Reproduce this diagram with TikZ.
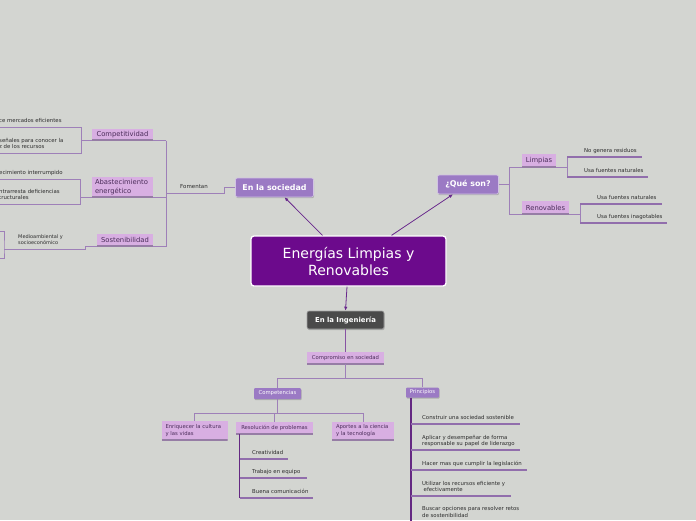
\documentclass[tikz,border=0pt]{standalone}
\usepackage{fontspec}
\setmainfont{DejaVu Sans}
\usetikzlibrary{arrows.meta,shadows}
\definecolor{bgc}{RGB}{211,213,209}
\definecolor{mainp}{RGB}{108,10,140}
\definecolor{midp}{RGB}{155,122,196}
\definecolor{lightp}{RGB}{216,175,226}
\definecolor{darkg}{RGB}{74,74,74}
\definecolor{linec}{RGB}{158,128,184}
\definecolor{ulc}{RGB}{145,110,172}
\definecolor{boxul}{RGB}{150,125,165}
\definecolor{barc}{RGB}{100,40,130}
\definecolor{arrc}{RGB}{105,40,140}
\definecolor{boxtxt}{RGB}{75,45,90}
\definecolor{leaftxt}{RGB}{45,45,45}
\tikzset{
 shad/.style={drop shadow={shadow xshift=0.6pt,shadow yshift=-1.2pt,opacity=0.35,fill=black!60}},
 mainbox/.style={draw=white,line width=1.3pt,fill=mainp,rounded corners=3pt,text=white,font=\fontsize{14}{17}\selectfont,align=center,minimum width=195pt,minimum height=50pt,inner sep=0pt},
 midbox/.style={draw=white!55!midp,line width=0.6pt,fill=midp,rounded corners=2pt,text=white,font=\bfseries\fontsize{7.9}{9}\selectfont,inner sep=0pt,shad},
 darkbox/.style={midbox,fill=darkg,draw=white!50!darkg},
 subbox/.style={fill=midp,text=white,font=\fontsize{5.3}{6.5}\selectfont,inner sep=0pt,rounded corners=1pt,shad},
 lbox/.style={fill=lightp,text=boxtxt,font=\fontsize{6.8}{8.7}\selectfont,inner sep=0pt,
   path picture={\draw[boxul,line width=2.4pt] (path picture bounding box.south west) -- (path picture bounding box.south east);}},
 sbox/.style={lbox,font=\fontsize{5.3}{7}\selectfont},
 leaf/.style={text=leaftxt,font=\fontsize{5.4}{6.6}\selectfont,align=left,anchor=south west,inner xsep=0pt,inner ysep=0pt,text depth=4pt},
 conn/.style={draw=linec,line width=0.8pt},
 ul/.style={draw=ulc,line width=1.1pt},
 bar/.style={draw=barc,line width=1.3pt},
 arr/.style={draw=arrc,line width=0.8pt,-{Latex[length=4pt,width=3.5pt]}},
}
\begin{document}
\begin{tikzpicture}[x=1pt,y=-1pt]
\fill[bgc] (0,0) rectangle (696,520);
\useasboundingbox (0,0) rectangle (696,520);
\clip (0,0) rectangle (696,520);

% main nodes
\node[mainbox] (central) at (348.5,261) {Energías Limpias y\\Renovables};
\node[midbox,minimum width=78pt,minimum height=19pt] (soc) at (274.5,187.5) {En la sociedad};
\node[midbox,minimum width=61pt,minimum height=19pt] (que) at (468,184.5) {¿Qué son?};
\node[darkbox,font=\bfseries\fontsize{6.9}{8}\selectfont,minimum width=77pt,minimum height=18pt] (ing) at (345.5,320) {En la Ingeniería};

\draw[arr] ([xshift=-26pt]central.north) -- ([xshift=10pt]soc.south);
\draw[arr] ([xshift=43pt]central.north) -- ([xshift=-15pt]que.south);
\draw[arr] ([xshift=-1.5pt]central.south) -- (ing.north);

% engineering tree
\node[sbox,minimum width=77pt,minimum height=12pt] (com) at (345.5,358) {Compromiso en sociedad};
\node[subbox,minimum width=47pt,minimum height=11pt] (cmp) at (277.5,393.5) {Competencias};
\node[subbox,minimum width=33pt,minimum height=10pt] (pri) at (422.5,392.5) {Principios};
\node[sbox,text width=58pt,inner xsep=4pt,align=left,minimum height=19pt] (enr) at (194.5,430.5) {Enriquecer la cultura\\y las vidas};
\node[sbox,minimum width=77pt,minimum height=12pt] (res) at (274.5,428) {Resolución de problemas};
\node[sbox,text width=54pt,inner xsep=4pt,align=left,minimum height=18pt] (apo) at (363,431) {Aportes a la ciencia\\y la tecnología};

\draw[conn,draw=arrc!80] (ing.south) -- (com.north);
\coordinate (j1) at (345.5,378.5);
\draw[conn] (com.south) -- (j1) -| (cmp.north);
\draw[conn] (j1) -| (pri.north);
\coordinate (j2) at (277.5,413);
\draw[conn] (cmp.south) -- (j2) -| (enr.north);
\draw[conn] (j2) -| (res.north);
\draw[conn] (j2) -| (apo.north);

\coordinate (rb) at ([xshift=4pt]res.south west);
\node[leaf] (cre) at (252,459) {Creatividad};
\node[leaf] (tra) at (252,478) {Trabajo en equipo};
\node[leaf] (bue) at (252,498) {Buena comunicación};
\draw[bar] (rb) -- (rb |- bue.south);
\draw[ul] (rb |- cre.south) -- ++(48,0);
\draw[ul] (rb |- tra.south) -- ++(67,0);
\draw[ul] (rb |- bue.south) -- ++(73,0);

\coordinate (pb) at ([xshift=-11.5pt]pri.south);
\node[leaf] (p1) at (422,424) {Construir una sociedad sostenible};
\node[leaf] (p2) at (422,450) {Aplicar y desempeñar de forma\\responsable su papel de liderazgo};
\node[leaf] (p3) at (422,470) {Hacer mas que cumplir la legislación};
\node[leaf] (p4) at (422,496) {Utilizar los recursos eficiente y\\\hspace{1.5pt}efectivamente};
\node[leaf] (p5) at (422,521.5) {Buscar opciones para resolver retos\\de sostenibilidad};
\draw[bar] (pb) -- ([yshift=-10pt]pb |- p5.south);
\draw[ul] (pb |- p1.south) -- ++(109,0);
\draw[ul] (pb |- p2.south) -- ++(109,0);
\draw[ul] (pb |- p3.south) -- ++(116,0);
\draw[ul] (pb |- p4.south) -- ++(100,0);
\draw[ul] (pb |- p5.south) -- ++(110,0);

% right tree
\node[lbox,minimum width=34pt,minimum height=13pt] (lim) at (539,160.5) {Limpias};
\node[lbox,minimum width=47pt,minimum height=13pt] (ren) at (545.5,207.5) {Renovables};
\coordinate (qj) at (509.5,184.5);
\draw[conn] (que.east) -- (qj);
\draw[conn] (qj) |- (lim.south west);
\draw[conn] (qj) |- (ren.south west);
\coordinate (lj) at ([xshift=11pt]lim.south east);
\draw[conn] (lim.south east) -- (lj);
\node[leaf] (l1) at (584,157) {No genera residuos};
\node[leaf] (l2) at (584,177) {Usa fuentes naturales};
\draw[conn] (lj |- l1.south) -- (lj |- l2.south);
\draw[ul] (lj |- l1.south) -- ++(75,0);
\draw[ul] (lj |- l2.south) -- ++(81,0);
\coordinate (rj) at ([xshift=11pt]ren.south east);
\draw[conn] (ren.south east) -- (rj);
\node[leaf] (r1) at (597,204) {Usa fuentes naturales};
\node[leaf] (r2) at (597,223) {Usa fuentes inagotables};
\draw[conn] (rj |- r1.south) -- (rj |- r2.south);
\draw[ul] (rj |- r1.south) -- ++(82,0);
\draw[ul] (rj |- r2.south) -- ++(87,0);

% left tree
\node[lbox,minimum width=61pt,minimum height=12pt] (cpt) at (122.5,134.5) {Competitividad};
\node[lbox,text width=55pt,inner xsep=3pt,align=left,minimum height=21pt] (aba) at (122.5,187) {Abastecimiento\\energético};
\node[lbox,minimum width=56pt,minimum height=13pt] (sos) at (125,240) {Sostenibilidad};
\coordinate (sj) at (224,193);
\coordinate (lv) at (166,193);
\node[leaf,font=\fontsize{5.5}{6.6}\selectfont] (fom) at (180,193) {Fomentan};
\draw[conn] (soc.west) -| (sj) -- (lv);
\draw[conn] (lv |- cpt.south) -- (lv |- sos.south);
\draw[conn] (lv |- cpt.south) -- (cpt.south east);
\draw[conn] (lv |- aba.south) -- (aba.south east);
\draw[conn] (lv |- sos.south) -- (sos.south east);

\coordinate (cb) at ([xshift=-10pt]cpt.south west);
\draw[conn] (cpt.south west) -- (cb);
\node[leaf] (c1) at (-1,127) {ce mercados eficientes};
\node[leaf] (c2) at (-1,153) {señales para conocer la\\z de los recursos};
\draw[conn] (cb |- c1.south) -- (cb |- c2.south);
\draw[conn] (cb |- c1.south) -- (c1.south west);
\draw[conn] (cb |- c2.south) -- (c2.south west);

\coordinate (ab) at ([xshift=-11pt]aba.south west);
\draw[conn] (aba.south west) -- (ab);
\node[leaf] (a1) at (-1,179) {ecimiento interrumpido};
\node[leaf] (a2) at (-1,204) {ntrarresta deficiencias\\tructurales};
\draw[conn] (ab |- a1.south) -- (ab |- a2.south);
\draw[conn] (ab |- a1.south) -- (a1.south west);
\draw[conn] (ab |- a2.south) -- (a2.south west);

\node[leaf,font=\fontsize{5}{6.2}\selectfont] (med) at (18,249) {Medioambiental y\\socioeconómico};
\coordinate (mb) at (4,249);
\draw[conn] (sos.south west) -- ++(-11,0) |- (mb);
\draw[conn] (-2,231) -| (mb) |- (-2,258);
\end{tikzpicture}
\end{document}
